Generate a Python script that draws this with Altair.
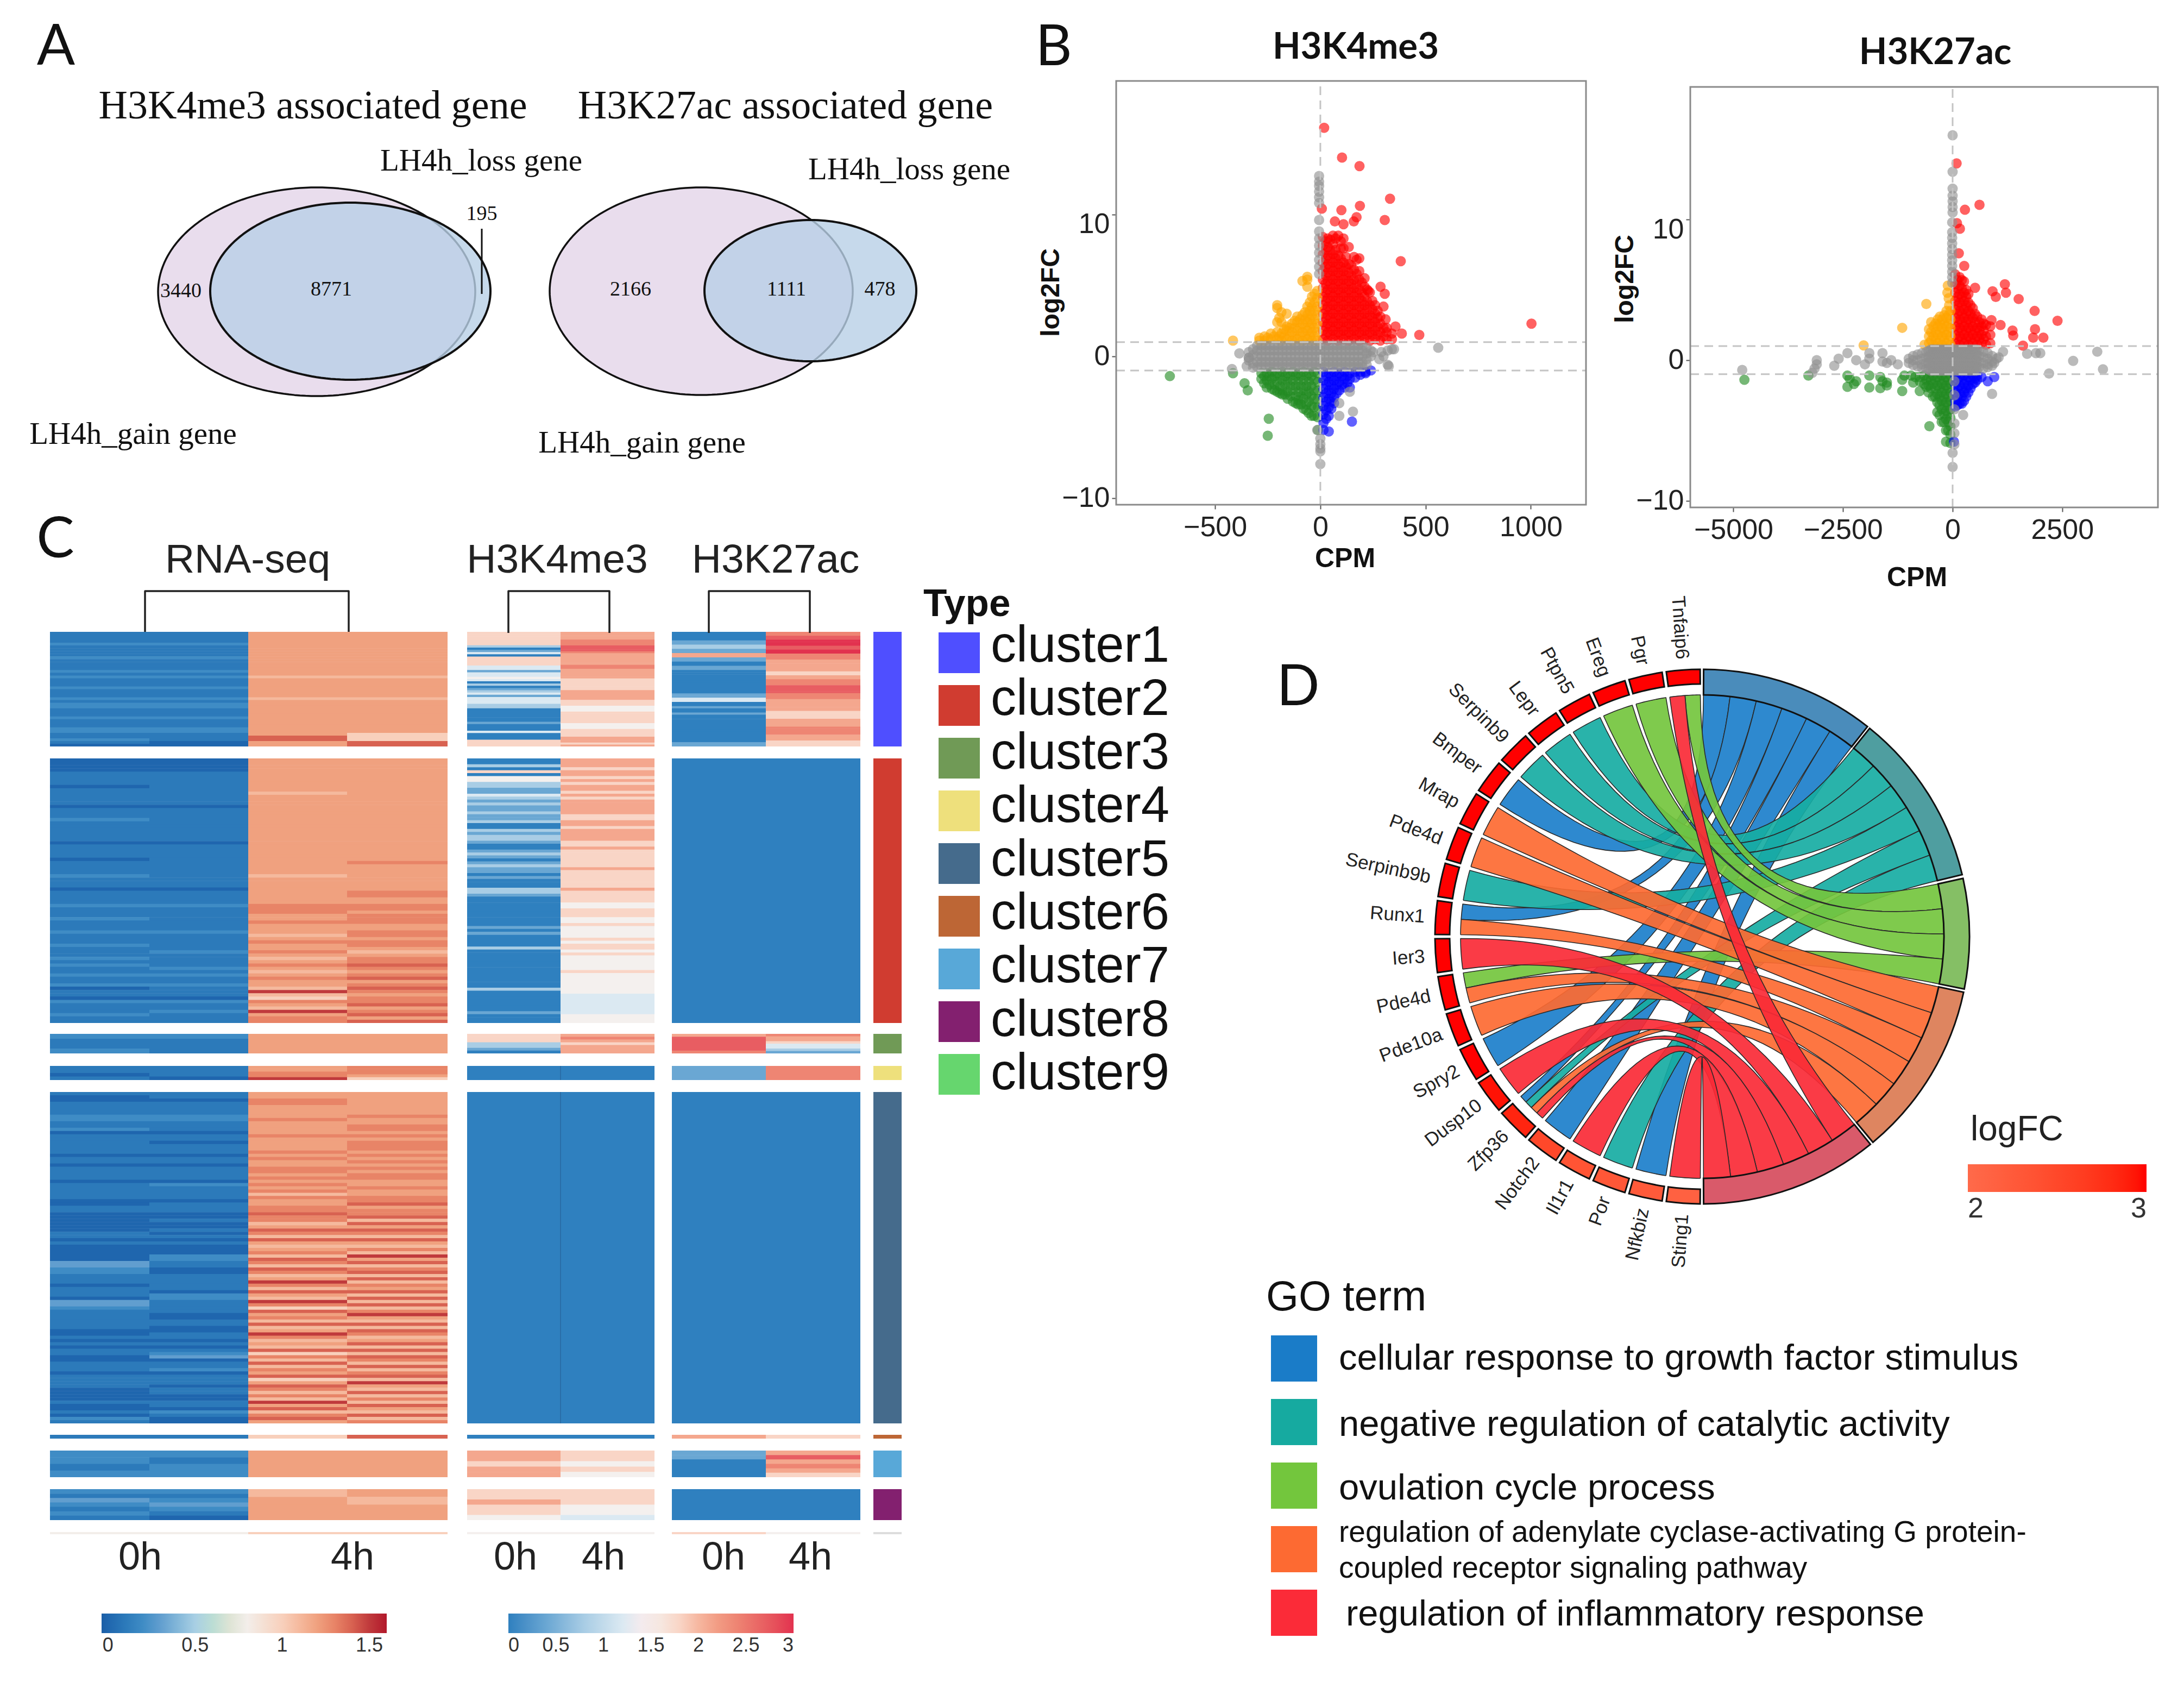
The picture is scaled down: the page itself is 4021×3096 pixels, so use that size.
import math
import altair as alt
import pandas as pd

# ---------- canvas ----------
W, H = 4005, 3080
SANS, SERIF, CAL = "Liberation Sans", "Liberation Serif", "Lato"
CX = alt.Scale(domain=[8, 8 + W], range=[0, W], nice=False, zero=False)
CY = alt.Scale(domain=[8, 8 + H], range=[0, H], nice=False, zero=False)
layers = []

def X(f="x"): return alt.X(f"{f}:Q", scale=CX, axis=None)
def Y(f="y"): return alt.Y(f"{f}:Q", scale=CY, axis=None)

def text(rows, size, font=SANS, color="#111", weight="normal", align="center"):
    df = pd.DataFrame(rows, columns=["x", "y", "t"])
    layers.append(alt.Chart(df).mark_text(font=font, fontSize=size, color=color, fontWeight=weight,
                                          align=align, baseline="middle")
                  .encode(x=X(), y=Y(), text="t:N"))

def poly(points_by_id, fill=None, stroke=None, sw=2.0, fop=1.0):
    rows = []
    for k, pts in points_by_id.items():
        for i, (x, y) in enumerate(pts):
            rows.append({"id": k, "i": i, "x": x, "y": y})
    kw = {"strokeWidth": sw, "interpolate": "linear", "strokeJoin": "round"}
    kw["stroke"] = stroke if stroke else "transparent"
    if fill:
        kw["fill"] = fill
        kw["fillOpacity"] = fop
    layers.append(alt.Chart(pd.DataFrame(rows)).mark_line(**kw)
                  .encode(x=X(), y=Y(), order="i:Q", detail="id:N"))

# ---------- panel A : venn ----------
VENN_GAIN = [(583, 537, 292, 192), (1291, 536, 279, 191)]
VENN_LOSS = [(645, 536, 258, 163), (1492, 535, 195, 130)]
VENN_NUMBERS = [("3440", 333, 536), ("8771", 610, 533), ("195", 887, 394),
                ("2166", 1161, 533), ("1111", 1448, 533), ("478", 1620, 533)]

def ellipse(cx, cy, rx, ry):
    return [(cx + rx * math.cos(2 * math.pi * k / 180), cy + ry * math.sin(2 * math.pi * k / 180))
            for k in range(181)]

poly({i: ellipse(*e) for i, e in enumerate(VENN_GAIN)}, fill="#e9dded", stroke="#111", sw=3.5)
poly({i: ellipse(*e) for i, e in enumerate(VENN_LOSS)}, fill="#b8cfe6", fop=0.8)
poly({i: ellipse(*e) for i, e in enumerate(VENN_LOSS)}, stroke="#111", sw=4)
poly({"l": [(887, 421), (887, 541)]}, stroke="#111", sw=3)
text([(x, y, n) for n, x, y in VENN_NUMBERS], 38, SERIF)
text([(576, 196, "H3K4me3 associated gene"), (1446, 196, "H3K27ac associated gene")], 74, SERIF)
text([(886, 297, "LH4h_loss gene"), (1674, 313, "LH4h_loss gene"),
      (245, 800, "LH4h_gain gene"), (1182, 816, "LH4h_gain gene")], 57, SERIF)
text([(103, 88, "A"), (1940, 89, "B"), (102, 995, "C"), (2390, 1267, "D")], 104, CAL)

# ---------- panel B : scatter ----------
SCATTER_COLORS = {"gray": "#8f8f8f", "red": "#ff0000", "orange": "#ffa500", "green": "#228b22", "blue": "#0000ff"}

B1_RED = [(18, [16.1]), (103, [14.0]), (186, [13.4]), (331, [11.1]), (188, [10.6]), (100, [10.3]), (7, [10.4]),
          (69, [9.5]), (110, [9.3]), (159, [9.5]), (172, [9.8]), (306, [9.6]), (382, [6.7]), (1003, [2.3]),
          (470, [1.5]), (387, [1.6]), (357, [2.1]), (310, [2.6]), (300, [3.5]), (306, [4.4]), (286, [4.9]),
          (228, [4.6]),
          (12, [1.2, 1.8, 2.4, 3.0, 3.6, 4.2, 4.8, 5.4, 6.0, 6.6, 7.2, 7.8, 8.4]),
          (24, [1.5, 2.1, 2.7, 3.3, 3.9, 4.5, 5.1, 5.7, 6.3, 6.9, 7.5, 8.1]),
          (35, [1.1, 1.7, 2.3, 2.9, 3.5, 4.1, 4.7, 5.3, 5.9, 6.5, 7.1, 7.7, 8.3]),
          (48, [1.5, 2.1, 2.7, 3.3, 3.9, 4.5, 5.1, 5.7, 6.3, 6.9, 7.5, 8.2]),
          (60, [1.2, 1.8, 2.4, 3.0, 3.6, 4.2, 4.8, 5.4, 6.0, 6.6, 7.2, 7.9, 8.5]),
          (72, [1.5, 2.1, 2.7, 3.3, 3.9, 4.5, 5.1, 5.7, 6.3, 6.9, 7.5, 8.3]),
          (85, [1.1, 1.7, 2.3, 2.9, 3.5, 4.1, 4.7, 5.3, 5.9, 6.5, 7.1, 8.5]),
          (97, [1.5, 2.1, 2.7, 3.3, 3.9, 4.5, 5.1, 5.7, 6.3, 6.9, 7.6, 8.1]),
          (110, [1.2, 1.8, 2.4, 3.0, 3.6, 4.2, 4.8, 5.4, 6.0, 6.6, 7.6, 8.3]),
          (122, [1.5, 2.1, 2.7, 3.3, 3.9, 4.5, 5.1, 5.7, 6.3, 7.0]),
          (135, [1.1, 1.7, 2.3, 2.9, 3.5, 4.1, 4.7, 5.3, 5.9, 6.5, 7.7]),
          (147, [1.5, 2.1, 2.7, 3.3, 3.9, 4.5, 5.1, 5.7, 6.4]),
          (160, [1.2, 1.8, 2.4, 3.0, 3.6, 4.2, 4.8, 5.4, 6.1, 7.0]),
          (172, [1.5, 2.1, 2.7, 3.3, 3.9, 4.5, 5.1, 5.8, 6.8]),
          (185, [1.1, 1.7, 2.3, 2.9, 3.5, 4.1, 4.7, 5.4, 6.0, 6.9]),
          (197, [1.5, 2.1, 2.7, 3.3, 3.9, 4.5, 5.2]),
          (210, [1.2, 1.8, 2.4, 3.0, 3.6, 4.2, 4.9, 5.5]),
          (222, [1.5, 2.1, 2.7, 3.3, 3.9, 4.7]),
          (235, [1.1, 1.7, 2.3, 2.9, 3.6, 4.5]),
          (247, [1.5, 2.1, 2.7, 3.3, 3.9]),
          (260, [1.2, 1.8, 2.4, 3.0, 3.6]),
          (272, [1.5, 2.1, 2.7, 3.2]),
          (285, [1.1, 1.7, 2.3, 2.8]),
          (300, [1.4, 2.0]), (315, [1.2, 1.7, 2.0]), (340, [1.2, 1.6])]
B1_ORANGE = [(-15, [1.1, 1.7, 2.3, 2.9, 3.5, 4.1, 4.6]), (-28, [1.4, 2.0, 2.6, 3.2, 3.8, 4.4]),
             (-40, [1.1, 1.7, 2.3, 2.9, 3.5, 4.2]), (-50, [1.4, 2.0, 2.6, 3.2, 3.8]),
             (-62, [1.2, 1.8, 2.4, 2.9, 3.5, 4.9, 5.4, 5.6]), (-73, [1.4, 2.0, 2.6, 3.1]),
             (-85, [1.1, 1.7, 2.3, 2.9, 5.3]), (-97, [1.4, 2.0, 2.6]),
             (-110, [1.2, 1.8, 2.4, 2.8]), (-122, [1.4, 2.0, 2.5]), (-135, [1.1, 1.7, 2.3]), (-147, [1.4, 2.0]),
             (-160, [1.2, 1.8, 2.1, 3.0]), (-172, [1.4, 1.9]),
             (-185, [1.1, 1.6, 2.4, 3.1]), (-195, [1.4, 2.7]), (-205, [1.2, 1.7, 2.4, 3.4, 3.6]), (-220, [1.4]),
             (-235, [1.2, 1.6]), (-250, [1.3]),
             (-265, [1.1, 1.4]), (-290, [1.1, 1.3]), (-415, [1.1])]
BAND = [0.75, 0.4, 0.0, -0.4, -0.75]
B1_GRAY = [(x, BAND) for x in
           (-300, -280, -260, -240, -220, -200, -180, -160, -140, -120, -100, -80, -60, -40, -20, 0,
            20, 40, 60, 80, 100, 120, 140, 160, 180, 200)] + \
          [(-340, [0.3, -0.1, -0.3]), (-320, [0.5, 0.1, -0.5]), (220, [0.6, 0.2, -0.2, -0.6]), (240, [0.4, 0.0]),
           (290, [0.3]), (300, [0.0]), (320, [0.4]), (340, [0.5]), (350, [0.5]), (280, [-0.2]), (320, [-0.6]),
           (325, [-0.7]), (560, [0.6]), (-385, [0.2]), (-420, [-0.9]), (-350, [-0.7]), (-320, [-0.8]),
           (-340, [-0.1]), (250, [0.3]),
           (-6, [5.8, 6.3, 6.8, 7.3, 7.8, 8.3, 8.8, 9.6, 10.8, 11.2, 11.6, 12.0, 12.3, 12.7]),
           (0, [-5.8, -6.2, -6.5, -6.7, -7.6]), (140, [-2.5]), (90, [-3.3]), (155, [-3.9]), (90, [-4.2]),
           (-15, [-5.2])]
B1_GREEN = [(-715, [-1.4]), (-415, [-1.2]), (-360, [-1.9]), (-345, [-2.4]), (-245, [-4.4]), (-250, [-5.6]),
            (-280, [-1.2, -1.6]), (-267, [-1.4, -1.9]), (-255, [-1.2, -1.7, -2.2]), (-242, [-1.4, -2.0]),
            (-230, [-1.1, -1.6, -2.3]), (-217, [-1.4, -2.0, -2.4]),
            (-205, [-1.2, -1.8, -2.5]), (-192, [-1.4, -2.1, -2.6]), (-180, [-1.1, -1.7, -2.4, -2.7]),
            (-167, [-1.4, -2.0, -2.7]), (-155, [-1.2, -1.8, -2.5, -3.0]), (-142, [-1.4, -2.1, -2.8]),
            (-130, [-1.1, -1.7, -2.4, -3.2]), (-117, [-1.4, -2.1, -2.8, -3.3]), (-105, [-1.2, -1.8, -2.5, -3.1, -3.4]),
            (-92, [-1.4, -2.1, -2.8, -3.4]), (-80, [-1.1, -1.7, -2.4, -3.0, -3.7]), (-67, [-1.4, -2.1, -2.7, -3.4, -3.8]),
            (-55, [-1.2, -1.8, -2.5, -3.2, -4.0]), (-42, [-1.4, -2.1, -2.8, -3.5, -4.2]),
            (-30, [-1.1, -1.7, -2.4, -3.0, -3.6, -4.2]), (-12, [-1.2, -1.8, -2.4, -3.0, -3.6, -4.3, -5.2])]
B1_BLUE = [(15, [-1.1, -1.7, -2.3, -2.9, -3.5, -4.1, -4.7, -5.2]), (28, [-1.4, -2.0, -2.6, -3.2, -3.8, -4.4]),
           (40, [-1.2, -1.8, -2.4, -3.0, -3.6, -4.2, -5.3]), (52, [-1.4, -2.0, -2.6, -3.2, -3.7]),
           (65, [-1.1, -1.7, -2.3, -2.9, -3.3]), (78, [-1.4, -2.0, -2.6]), (90, [-1.2, -1.8, -2.4]),
           (102, [-1.4, -2.0]), (115, [-1.1, -1.6, -2.2]), (128, [-1.4, -1.9]),
           (140, [-1.2, -1.6, -2.2]), (165, [-1.1, -1.5]), (190, [-1.1, -1.3]), (215, [-1.1, -1.2]),
           (240, [-1.0]), (150, [-4.6])]

B2_RED = [(91, [14.0]), (281, [10.7]), (613, [11.05]), (99, [9.75]), (166, [9.35]), (141, [7.6]), (265, [6.7]),
          (513, [5.15]), (1192, [5.4]), (911, [4.9]), (1217, [4.8]), (985, [4.5]), (1507, [4.35]), (1871, [3.5]),
          (2393, [2.8]), (1880, [2.2]), (1838, [1.6]), (2070, [1.6]), (1366, [2.1]), (1383, [1.75]), (1606, [1.03]),
          (1093, [2.5]), (886, [2.85]),
          (60, [1.2, 1.8, 2.4, 3.0, 3.6, 4.2, 4.8, 5.4, 6.1]), (110, [1.5, 2.1, 2.7, 3.3, 3.9, 4.5, 5.1, 5.7]),
          (160, [1.1, 1.7, 2.3, 2.9, 3.5, 4.1, 4.7, 5.3, 5.9]), (210, [1.5, 2.1, 2.7, 3.3, 3.9, 4.5, 5.1, 5.7]),
          (260, [1.2, 1.8, 2.4, 3.0, 3.6, 4.2, 4.8, 5.6]), (310, [1.5, 2.1, 2.7, 3.3, 3.9, 4.5, 5.0]),
          (360, [1.1, 1.7, 2.3, 2.9, 3.5, 4.1, 4.7]), (410, [1.5, 2.1, 2.7, 3.3, 3.9]),
          (460, [1.2, 1.8, 2.4, 3.0, 3.7]), (510, [1.5, 2.1, 2.7, 3.3]), (560, [1.1, 1.7, 2.3, 3.1]),
          (610, [1.5, 2.1, 2.7]), (660, [1.2, 1.8, 2.4, 2.9]), (710, [1.5, 2.1, 2.6]),
          (760, [1.1, 1.7, 2.5]), (860, [1.2, 1.8, 2.4])]
B2_ORANGE = [(-110, [5.3]), (-120, [4.8]), (-90, [4.4]), (-80, [3.9]),
             (-50, [1.1, 1.7, 2.3, 2.9, 3.5]), (-95, [1.4, 2.0, 2.6, 3.2]), (-140, [1.2, 1.8, 2.4, 3.0, 3.5]),
             (-190, [1.4, 2.0, 2.6, 3.2]), (-240, [1.1, 1.7, 2.3, 2.9]), (-290, [1.4, 2.0, 2.6, 3.1]),
             (-340, [1.2, 1.8, 2.4, 2.9]), (-390, [1.4, 2.0, 2.6]), (-440, [1.1, 1.7, 2.4]), (-490, [1.4, 2.0, 2.7]),
             (-540, [1.2, 1.7, 2.2]), (-640, [1.1]),
             (-600, [4.0]), (-1150, [2.3]), (-2030, [1.05])]
B2_GRAY = [(x, BAND) for x in (-500, -450, -400, -350, -300, -250, -200, -150, -100, -50, 0, 50, 100, 150, 200, 250, 300, 350, 400, 450, 500, 550)] + \
          [(-1000, [0.1, -0.2]), (-900, [0.3, 0.0, -0.35]), (-800, [0.4, 0.0, -0.45]), (-700, [0.5, 0.1, -0.3, -0.55]),
           (-600, [0.6, 0.2, -0.2, -0.6]), (-550, [0.65, 0.2, -0.2, -0.65]), (600, [0.7, 0.3, -0.1, -0.5]),
           (700, [0.6, 0.2, -0.2, -0.6]), (800, [0.5, 0.1, -0.3, -0.5]), (900, [0.3, -0.1, -0.4]),
           (-4800, [-0.7]), (-3100, [0.0, -0.3]), (-3150, [-0.6]), (-3200, [-0.9]), (-2600, [0.1]), (-2400, [0.5]),
           (-2700, [-0.4]), (-2200, [0.0]), (-1900, [0.1, 0.5]), (-2000, [-0.3]), (-1600, [0.5, -0.1]),
           (-1500, [-0.2]), (-1400, [0.0]), (-1250, [-0.3]), (1150, [0.6]), (1050, [0.2]), (1700, [0.45]),
           (1900, [0.5]), (2000, [0.5]), (2200, [-0.95]), (2750, [-0.05]), (3300, [0.6]), (3430, [-0.65]),
           (950, [-0.2]), (1000, [0.1]), (900, [-2.4]), (240, [-3.9]),
           (-10, [5.5, 5.9, 6.3, 6.7, 7.1, 7.5, 7.9, 8.3, 8.7, 9.1, 9.8]),
           (0, [16.0, 13.4, 12.2, 11.7, 11.3, 10.9, 10.5, -6.6, -7.6]),
           (40, [-1.5, -2.5, -3.5, -4.5, -5.2, -6.0])]
B2_GREEN = [(-4750, [-1.4]), (-3290, [-1.1]), (-2400, [-1.1, -1.9]), (-2350, [-1.3]), (-2200, [-1.5]), (-2250, [-1.7]),
            (-1900, [-1.95, -1.1]), (-1650, [-1.2, -2.0]), (-1600, [-1.5]), (-1500, [-1.6, -1.8]), (-1150, [-1.4, -2.2]),
            (-1100, [-1.1]), (-900, [-1.6]), (-750, [-2.2]), (-530, [-4.7]), (-150, [-5.8]),
            (-50, [-1.1, -1.7, -2.3, -2.9, -3.5, -4.1, -4.7, -5.3, -5.9]), (-100, [-1.4, -2.0, -2.6, -3.2, -3.8, -4.4, -5.0]),
            (-150, [-1.2, -1.8, -2.4, -3.0, -3.6, -4.2, -5.0]), (-200, [-1.4, -2.0, -2.6, -3.2, -3.8, -4.4]),
            (-250, [-1.1, -1.7, -2.3, -2.9, -3.5, -4.4]), (-300, [-1.4, -2.0, -2.6, -3.2, -3.9]),
            (-350, [-1.2, -1.8, -2.4, -3.0, -3.7]), (-400, [-1.4, -2.0, -2.6]),
            (-450, [-1.1, -1.7, -2.6]), (-500, [-1.4, -2.0]), (-550, [-1.2, -1.8, -2.3]), (-600, [-1.4, -1.9]),
            (-650, [-1.1, -1.7]), (-750, [-1.2, -1.5]),
            (-850, [-1.2]), (-950, [-1.1])]
B2_BLUE = [(60, [-1.1, -1.7, -2.3, -2.9, -3.3]), (110, [-1.4, -2.0, -2.6, -3.2]), (160, [-1.2, -1.8, -2.4, -3.1]),
           (210, [-1.4, -2.0, -2.6, -3.1]), (260, [-1.1, -1.7, -2.3, -2.9]), (310, [-1.4, -2.0, -2.6]),
           (360, [-1.2, -1.8, -2.3]), (410, [-1.4, -2.0]), (460, [-1.1, -1.7]), (510, [-1.3, -1.6]), (560, [-1.1, -1.4]),
           (660, [-1.2]), (800, [-1.5]),
           (950, [-1.2]), (30, [-5.8])]

def scatter(groups, xdom, xrange_, ydom, yrange_, xticks, xtitle, ytitle):
    xs = alt.Scale(domain=xdom, range=xrange_, nice=False, zero=False)
    ys = alt.Scale(domain=ydom, range=yrange_, nice=False, zero=False)
    rows = []
    for g, cols in groups:
        for x, yy in cols:
            for y in yy:
                rows.append({"x": x, "y": y, "g": SCATTER_COLORS[g]})
    ax = alt.Axis(values=xticks, format="d", grid=False, domain=False, offset=yrange_[0] - H, orient="bottom",
                  labelFont=SANS, labelFontSize=52, labelColor="#222", tickColor="#555", tickSize=8, tickWidth=2,
                  labelPadding=8, title="CPM", titleFont=SANS, titleFontSize=50, titleFontWeight="bold",
                  titleX=xtitle[0] - 8, titleY=xtitle[1] - (yrange_[0] + 8), titleBaseline="middle", titleColor="#111")
    ay = alt.Axis(values=[-10, 0, 10], format="d", grid=False, domain=False, offset=-xrange_[0], orient="left",
                  labelFont=SANS, labelFontSize=52, labelColor="#222", tickColor="#555", tickSize=8, tickWidth=2,
                  labelPadding=4, labelOffset={"condition": {"test": "datum.value == 10", "value": 18}, "value": 0},
                  title="log2FC", titleFont=SANS, titleFontSize=48, titleFontWeight="bold",
                  titleX=ytitle[0] - (xrange_[0] + 8), titleY=ytitle[1] - 8, titleBaseline="middle", titleColor="#111")
    layers.append(alt.Chart(pd.DataFrame(rows)).mark_circle(size=360, opacity=0.62).encode(
        x=alt.X("x:Q", scale=xs, axis=ax), y=alt.Y("y:Q", scale=ys, axis=ay),
        color=alt.Color("g:N", scale=None)))
    xx = alt.X("x:Q", scale=xs, axis=None)
    yy = alt.Y("y:Q", scale=ys, axis=None)
    h = pd.DataFrame({"x": [xdom[0]] * 2, "x2": [xdom[1]] * 2, "y": [1, -1]})
    layers.append(alt.Chart(h).mark_rule(color="#c4c4c4", strokeWidth=3, strokeDash=[16, 10])
                  .encode(x=xx, x2="x2:Q", y=yy))
    v = pd.DataFrame({"x": [0], "y": [ydom[0]], "y2": [ydom[1]]})
    layers.append(alt.Chart(v).mark_rule(color="#c4c4c4", strokeWidth=3, strokeDash=[16, 10])
                  .encode(x=xx, y=yy, y2="y2:Q"))
    f = pd.DataFrame({"x": [xdom[0]], "x2": [xdom[1]], "y": [ydom[0]], "y2": [ydom[1]]})
    layers.append(alt.Chart(f).mark_rect(fillOpacity=0, stroke="#8a8a8a", strokeWidth=3)
                  .encode(x=xx, x2="x2:Q", y=yy, y2="y2:Q"))

scatter([("red", B1_RED), ("orange", B1_ORANGE), ("green", B1_GREEN), ("blue", B1_BLUE), ("gray", B1_GRAY)],
        [-970, 1262], [2047, 2912], [-10.46, 19.4], [921, 141], [-500, 0, 500, 1000], (2476, 1028), (1935, 538))
scatter([("red", B2_RED), ("orange", B2_ORANGE), ("green", B2_GREEN), ("blue", B2_BLUE), ("gray", B2_GRAY)],
        [-5985, 4684], [3104, 3965], [-10.48, 19.44], [926, 152], [-5000, -2500, 0, 2500], (3529, 1063), (2992, 513))
text([(2496, 88, "H3K4me3"), (3563, 98, "H3K27ac")], 67, CAL, weight="bold")

# ---------- panel C : heatmap ----------
BLOCKS = [(1163, 1374), (1396, 1883), (1903, 1939), (1962, 1988), (2010, 2620), (2641, 2648), (2670, 2719), (2741, 2798), (2820, 2824)]
RNA_EDGES = [92, 275, 457, 639, 824]
K4_EDGES = [860, 1032, 1205]
K27_EDGES = [1237, 1410, 1584]

RNA_0H_A = ["111121111211112121112111212211121112211210",
            "00001111011111011121111110111101111211101111211121112111211121211211201102111211",
            "2112", "1101",
            "100111122112011111101101111011111001100000011010000033221110111033211111100101011001110111100001001021",
            "1", "2212", "2132121", "8"]
RNA_0H_B = ["111121111211112121112111212211121112211100",
            "00001111111111011111111110111111111111101111211111112111112111121211211102112111",
            "2111", "1110",
            "110111122111011011101101111021111011100100101010002211001111102211110011001101012301120111011001102100",
            "1", "2122", "2123210", "8"]
RNA_4H_A = ["222222222222222212222222122222222222224422",
            "22222222221222222222222222222222222122222222333223222123223212321232215103215233",
            "22", "22335",
            "223322223222232222323223323232313223343312431421231431431253142153042314125312140314132402431315241342",
            "0", "2", "1222", "0"]
RNA_4H_B = ["222222222222222212222222122222222222200044",
            "22222222222222222222222222222223222222223322332333223323321233432342343233423424",
            "22", "33320",
            "222222232233232333232323233223223342334142431421315241341413241414135214143124141431413415214131421413",
            "4", "2", "2122", "0"]
K4_0H = ["555555201305555331334302012313332200000010003000555",
         "002050442211321211211200212210012101211010002210000000000101000020000000000000200000001000",
         "5552210", "0", "0", "0", "66566", "556554", "4"]
K4_4H = ["66667778887666666776666655555566666555444555555444555566656",
         "666566565665656666655665666655655555565555556555544555445444454554544444544444443333333444",
         "6765666", "0", "0", "0", "55454", "555443", "4"]
K27_0H = ["000011221166110011000000000001133001001000000000000011", "0", "6888887", "1", "0", "6", "110000", "0", "5"]
K27_4H = ["7788999889977766666655667778888777666666555566667777666555", "0", "76653321", "77", "0", "5", "686765", "0", "4"]
K_LEVELS = [0, 0.4, 0.8, 1.2, 1.5, 1.8, 2.1, 2.4, 2.7, 3.0]

def heat_rows(columns, edges, conv):
    rows = []
    for c, col in enumerate(columns):
        for (top, bot), s in zip(BLOCKS, col):
            step = (bot - top) / len(s)
            for i, ch in enumerate(s):
                rows.append({"x": edges[c], "x2": edges[c + 1], "y": top + i * step,
                             "y2": top + (i + 1) * step + (0.6 if i < len(s) - 1 else 0), "v": conv(c, int(ch))})
    return pd.DataFrame(rows)

def legend(x, y, length, thick, vals, size):
    return alt.Legend(orient="none", legendX=x - 8, legendY=y - 8, direction="horizontal", title=None,
                      gradientLength=length, gradientThickness=thick, values=vals, labelFont=SANS, labelAlign="center",
                      labelFontSize=size, labelColor="#333", labelOffset=6, format="~g")

rna = heat_rows([RNA_0H_A, RNA_0H_B, RNA_4H_A, RNA_4H_B], RNA_EDGES,
                lambda c, d: d / 10 if c < 2 else 1 + d / 10)
layers.append(alt.Chart(rna).mark_rect(strokeWidth=0).encode(
    x=X(), x2="x2:Q", y=Y(), y2="y2:Q",
    color=alt.Color("v:Q", legend=legend(187, 2970, 525, 36, [0, 0.5, 1, 1.5], 36),
                    scale=alt.Scale(domain=[-0.037, 0, 0.1, 0.2, 0.3, 0.5, 0.8, 1.0, 1.2, 1.35, 1.5, 1.6],
                                    range=["#1b5ea6", "#1f66ae", "#2c7aba", "#3f8cc5", "#619ecf", "#a8cfe4", "#f3eeea",
                                           "#f8d0bc", "#f0a17f", "#e4745d", "#c03a3c", "#b2182b"]))))
k4 = heat_rows([K4_0H, K4_4H], K4_EDGES, lambda c, d: K_LEVELS[d])
k27 = heat_rows([K27_0H, K27_4H], K27_EDGES, lambda c, d: K_LEVELS[d])
layers.append(alt.Chart(pd.concat([k4, k27])).mark_rect(strokeWidth=0).encode(
    x=X(), x2="x2:Q", y=Y(), y2="y2:Q",
    color=alt.Color("v:Q", legend=legend(936, 2970, 525, 36, [0, 0.5, 1, 1.5, 2, 2.5, 3], 36),
                    scale=alt.Scale(domain=K_LEVELS,
                                    range=["#2f80bf", "#6aa7d3", "#a9cde5", "#dbe9f2", "#f4f0ee", "#f9d5c6", "#f4a78e",
                                           "#ee8573", "#e85d62", "#e2324f"]))))
poly({"k4mid": [(1032, 1962), (1032, 1988)], "k4mid2": [(1032, 2010), (1032, 2620)]}, stroke="#2a6ea8", sw=2)

CLUSTERS = ["cluster1", "cluster2", "cluster3", "cluster4", "cluster5", "cluster6", "cluster7", "cluster8", "cluster9"]
CLUSTER_COLORS = ["#4f4fff", "#d03c30", "#709a56", "#eee07c", "#456b8c", "#bd6635", "#58a8d8", "#83206f", "#66d66e"]
ANN_COLORS = CLUSTER_COLORS[:8] + ["#dddddd"]
ann = pd.DataFrame({"x": [1608] * 9, "x2": [1660] * 9, "y": [b[0] for b in BLOCKS], "y2": [b[1] for b in BLOCKS], "c": ANN_COLORS})
layers.append(alt.Chart(ann).mark_rect(strokeWidth=0).encode(x=X(), x2="x2:Q", y=Y(), y2="y2:Q", color=alt.Color("c:N", scale=None)))
leg_top = [1164 + 97 * i for i in range(9)]
leg = pd.DataFrame({"x": [1728] * 9, "x2": [1804] * 9, "y": leg_top, "y2": [t + 75 for t in leg_top], "c": CLUSTER_COLORS})
layers.append(alt.Chart(leg).mark_rect(strokeWidth=0).encode(x=X(), x2="x2:Q", y=Y(), y2="y2:Q", color=alt.Color("c:N", scale=None)))
text([(1824, 1190 + 98.4 * i, n) for i, n in enumerate(CLUSTERS)], 94, SANS, align="left")
text([(1700, 1113, "Type")], 71, SANS, weight="bold", align="left")
text([(456, 1031, "RNA-seq"), (1026, 1031, "H3K4me3"), (1428, 1031, "H3K27ac")], 75, SANS, color="#222")
poly({"a": [(267, 1163), (267, 1088), (642, 1088), (642, 1163)],
      "b": [(936, 1165), (936, 1088), (1122, 1088), (1122, 1165)],
      "c": [(1305, 1165), (1305, 1088), (1491, 1088), (1491, 1165)]}, stroke="#222", sw=3.5)
text([(258, 2867, "0h"), (649, 2867, "4h"), (949, 2867, "0h"), (1111, 2867, "4h"), (1332, 2867, "0h"), (1492, 2867, "4h")], 72, SANS, color="#222")

# ---------- panel D : chord ----------
CENTER = (3134, 1724)
R_OUT, R_TERM_IN, R_RIB, R_GENE_IN = 492, 445, 445, 465
GENES = ["Sting1", "Nfkbiz", "Por", "Il1r1", "Notch2", "Zfp36", "Dusp10", "Spry2", "Pde10a", "Pde4d", "Ier3",
         "Runx1", "Serpinb9b", "Pde4d", "Mrap", "Bmper", "Serpinb9", "Lepr", "Ptpn5", "Ereg", "Pgr", "Tnfaip6"]
LOGFC = [2.15, 2.25, 2.3, 2.35, 2.5, 2.85, 2.95, 3, 3, 3, 3, 3, 3, 3, 3, 3, 3, 3, 3, 3, 3, 3]
TERM_SPANS = [(0.3, 38.2), (38.8, 76.6), (77.4, 101.3), (102, 140.3), (141, 179.7)]
TERM_ARC_COLORS = ["#4a8cbb", "#4f9ea0", "#85bf65", "#de8560", "#d95a6a"]
RIBBON_COLORS = ["#1c7fcb", "#17ada3", "#74c63e", "#fd6a32", "#fa2a36"]
TERM_GENES = [[15, 11, 7, 5, 4, 1], [18, 17, 16, 12, 5, 2], [21, 20, 19, 9], [14, 13, 11, 9, 8, 5], [21, 10, 6, 5, 3, 0]]
GENE_SPLIT = {5: [4, 3, 1, 0], 9: [3, 2], 11: [3, 0], 21: [4, 2]}
STEP = 180 / 22

def pol(a, r):
    t = math.radians(a)
    return (CENTER[0] + r * math.sin(t), CENTER[1] - r * math.cos(t))

def arc_pts(a0, a1, r, n=8):
    return [pol(a0 + (a1 - a0) * k / n, r) for k in range(n + 1)]

def bez(p0, p1, n=30):
    return [((1 - t) ** 2 * p0[0] + 2 * t * (1 - t) * CENTER[0] + t * t * p1[0],
             (1 - t) ** 2 * p0[1] + 2 * t * (1 - t) * CENTER[1] + t * t * p1[1]) for t in (k / n for k in range(n + 1))]

def gene_band(i, term):
    a0 = 180 + STEP * i + 0.45
    span = STEP - 0.9
    parts = GENE_SPLIT.get(i, [term])
    k = parts.index(term)
    return a0 + span * k / len(parts), a0 + span * (k + 1) / len(parts)

for t, genes in enumerate(TERM_GENES):
    t0, t1 = TERM_SPANS[t]
    w = (t1 - t0) / len(genes)
    ribbons = {}
    for j, g in enumerate(genes):
        a0, a1 = gene_band(g, t)
        b0, b1 = t0 + j * w, t0 + (j + 1) * w
        pts = arc_pts(a0, a1, R_RIB) + bez(pol(a1, R_RIB), pol(b0, R_RIB)) + arc_pts(b0, b1, R_RIB) + bez(pol(b1, R_RIB), pol(a0, R_RIB))
        ribbons[f"{t}-{g}"] = pts
    poly(ribbons, fill=RIBBON_COLORS[t], stroke="#2a2a2a", sw=1.6, fop=0.92)

TH = alt.Scale(domain=[0, 360], range=[0, 2 * math.pi])
term_df = pd.DataFrame({"a": [s[0] for s in TERM_SPANS], "b": [s[1] for s in TERM_SPANS], "c": TERM_ARC_COLORS})
layers.append(alt.Chart(term_df).mark_arc(innerRadius=R_TERM_IN, outerRadius=R_OUT, stroke="#111", strokeWidth=3).encode(
    x=alt.value(CENTER[0] - 8), y=alt.value(CENTER[1] - 8),
    theta=alt.Theta("a:Q", scale=TH, stack=None), theta2="b:Q", color=alt.Color("c:N", scale=None)))
gene_df = pd.DataFrame({"a": [180 + STEP * i + 0.45 for i in range(22)], "b": [180 + STEP * (i + 1) - 0.45 for i in range(22)], "v": LOGFC})
layers.append(alt.Chart(gene_df).mark_arc(innerRadius=R_GENE_IN, outerRadius=R_OUT, stroke="#111", strokeWidth=3).encode(
    x=alt.value(CENTER[0] - 8), y=alt.value(CENTER[1] - 8),
    theta=alt.Theta("a:Q", scale=TH, stack=None), theta2="b:Q",
    color=alt.Color("v:Q", scale=alt.Scale(domain=[2, 3], range=["#ff6a4a", "#ff0000"]),
                    legend=legend(3623, 2143, 329, 51, [2, 3], 52))))
lab = []
for i, g in enumerate(GENES):
    a = 180 + STEP * (i + 0.5)
    x, y = pol(a, 512)
    lab.append({"x": x, "y": y, "t": g, "a": (a - 270) % 360})
layers.append(alt.Chart(pd.DataFrame(lab)).mark_text(font=SANS, fontSize=35, color="#222", align="right", baseline="middle").encode(
    x=X(), y=Y(), text="t:N", angle=alt.Angle("a:Q", scale=None)))
text([(3628, 2080, "logFC")], 64, SANS, align="left", color="#222")

# GO term legend
GO_TOPS = [2458, 2575, 2692, 2809, 2926]
GO_COLORS = ["#1a7cc8", "#16aaa0", "#73c63d", "#fd6a32", "#fb2b38"]
go = pd.DataFrame({"x": [2340] * 5, "x2": [2425] * 5, "y": GO_TOPS, "y2": [t + 85 for t in GO_TOPS], "c": GO_COLORS})
layers.append(alt.Chart(go).mark_rect(strokeWidth=0).encode(x=X(), x2="x2:Q", y=Y(), y2="y2:Q", color=alt.Color("c:N", scale=None)))
text([(2331, 2389, "GO term")], 77, SANS, align="left")
text([(2465, 2501, "cellular response to growth factor stimulus"),
      (2465, 2623, "negative regulation of catalytic activity"),
      (2465, 2740, "ovulation cycle process"),
      (2478, 2972, "regulation of inflammatory response")], 67, SANS, align="left")
text([(2465, 2821, "regulation of adenylate cyclase-activating G protein-"),
      (2465, 2887, "coupled receptor signaling pathway")], 55, SANS, align="left")

chart = alt.layer(*layers).resolve_scale(x="independent", y="independent", color="independent", theta="independent").properties(
    width=W, height=H, padding=0, autosize=alt.AutoSizeParams(type="none"), background="white"
).configure_view(stroke=None)
chart.save("out.html", embed_options={"renderer": "svg", "actions": False})
